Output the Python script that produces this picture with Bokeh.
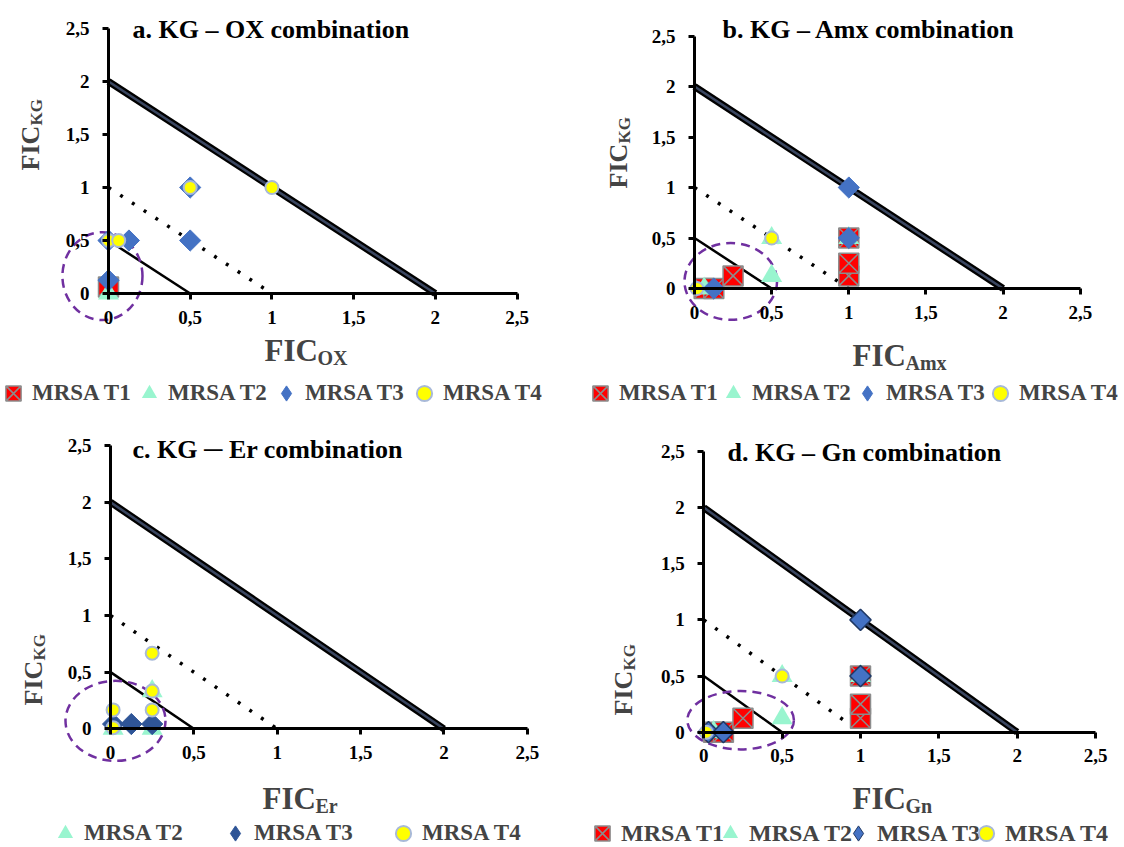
import math
from bokeh.plotting import figure
from bokeh.models import Range1d, FixedTicker, Label, Legend, LegendItem
from bokeh.layouts import column, row
from bokeh.embed import file_html
from bokeh.resources import INLINE

FONT = "Liberation Serif"

# ---------------- data ----------------
tick_values = [0, 0.5, 1, 1.5, 2, 2.5]
tick_labels = ["0", "0,5", "1", "1,5", "2", "2,5"]
series_names = ["MRSA T1", "MRSA T2", "MRSA T3", "MRSA T4"]

# reference lines of the isobologram
add_x = [0, 2]
add_y = [2, 0]
ind_x = [0, 1]
ind_y = [1, 0]
syn_x = [0, 0.5]
syn_y = [0.5, 0]

# a. KG - OX
a_t1_x = [0.0]
a_t1_y = [0.0625]
a_t2_x = [0.0]
a_t2_y = [0.0]
a_t3_x = [0.0, 0.0, 0.125, 0.5, 0.5]
a_t3_y = [0.125, 0.5, 0.5, 0.5, 1.0]
a_t4_x = [0.0, 0.0625, 0.5, 1.0]
a_t4_y = [0.5, 0.5, 1.0, 1.0]

# b. KG - Amx
b_t1_x = [0.0625, 0.125, 0.25, 1.0, 1.0, 1.0]
b_t1_y = [0.0, 0.0, 0.125, 0.125, 0.25, 0.5]
b_t2_x = [0.0625, 0.5, 0.5, 1.0]
b_t2_y = [0.0, 0.125, 0.5, 0.5]
b_t3_x = [0.125, 1.0, 1.0]
b_t3_y = [0.0, 0.5, 1.0]
b_t4_x = [0.0156, 0.5]
b_t4_y = [0.0, 0.5]

# c. KG - Er
c_t2_x = [0.0156, 0.25, 0.25]
c_t2_y = [0.0, 0.0, 0.333]
c_t3_x = [0.0156, 0.125, 0.25]
c_t3_y = [0.042, 0.042, 0.042]
c_t4_x = [0.0156, 0.0156, 0.25, 0.25, 0.25]
c_t4_y = [0.01, 0.167, 0.167, 0.333, 0.667]

# d. KG - Gn
d_t1_x = [0.0625, 0.125, 0.25, 1.0, 1.0, 1.0]
d_t1_y = [0.0, 0.0, 0.125, 0.125, 0.25, 0.5]
d_t2_x = [0.0625, 0.5, 0.5, 1.0]
d_t2_y = [0.0, 0.125, 0.5, 0.5]
d_t3_x = [0.03, 0.125, 1.0, 1.0]
d_t3_y = [0.0, 0.0, 0.5, 1.0]
d_t4_x = [0.0156, 0.5]
d_t4_y = [0.0, 0.5]

# ---------------- styles ----------------
STY = {
    "MRSA T1": dict(marker="square_x", size=20, fill_color="#FF0000", line_color="#8C8C8C", line_width=1.5),
    "MRSA T2": dict(marker="triangle", size=21, fill_color="#99F5CF", line_color=None),
    "MRSA T3": dict(marker="square", size=15, angle=math.pi / 4, fill_color="#4472C4", line_color="#4472C4", line_width=1),
    "MRSA T4": dict(marker="circle", size=13, fill_color="#FFFF00", line_color="#A8B9D8", line_width=2),
}
GW = 38  # legend glyph box width -> glyph size 0.4*GW


def make_panel(W, H, X0, sx, Y0, sy):
    p = figure(width=W, height=H, output_backend="svg", toolbar_location=None,
               x_range=Range1d(-X0 / sx, (W - X0) / sx),
               y_range=Range1d((Y0 - H) / sy, Y0 / sy),
               min_border=0, min_border_left=0, min_border_right=0,
               min_border_top=0, min_border_bottom=0)
    p.outline_line_color = None
    p.background_fill_color = "white"
    p.border_fill_color = "white"
    p.xgrid.visible = False
    p.ygrid.visible = False
    overrides = {v: l for v, l in zip(tick_values, tick_labels)}
    for ax, std in ((p.xaxis[0], 11), (p.yaxis[0], 13)):
        ax.fixed_location = 0
        ax.bounds = (0, 2.5)
        ax.ticker = FixedTicker(ticks=tick_values)
        ax.major_label_overrides = overrides
        ax.axis_line_width = 3
        ax.axis_line_color = "black"
        ax.major_tick_line_width = 3
        ax.major_tick_line_color = "black"
        ax.major_tick_in = 0
        ax.major_tick_out = 6
        ax.minor_tick_line_color = None
        ax.major_label_standoff = std
        ax.major_label_text_font = FONT
        ax.major_label_text_font_style = "bold"
        ax.major_label_text_font_size = "19px"
        ax.major_label_text_color = "black"
    # reference lines
    p.line(add_x, add_y, line_color="black", line_width=7)
    p.line(add_x, add_y, line_color="#3A4660", line_width=2.5)
    p.line(ind_x, ind_y, line_color="black", line_width=3.5, line_dash="3 11")
    p.line(syn_x, syn_y, line_color="black", line_width=2.5)
    return p


def add_ellipse(p, cx, cy, w, h):
    p.ellipse(x=[cx], y=[cy], width=[w], height=[h], fill_color=None,
              line_color="#7030A0", line_width=2.5, line_dash="9 6")


def add_series(p, name, xs, ys, **over):
    st = dict(STY[name])
    st.update(over)
    return p.scatter(xs, ys, **st)


def diamond_proxy(p, xs, ys, fill, line):
    # hidden copy of the diamond series used as its legend swatch
    # (Bokeh legends ignore marker angle, so use the "diamond" marker here)
    return p.scatter(xs, ys, marker="diamond", size=15, fill_color=fill,
                     line_color=line, visible=False)


def add_legend(p, entries, centers, ymid_from_bottom, fsize):
    for (name, r), c in zip(entries, centers):
        lg = Legend(items=[LegendItem(label=name, renderers=[r])], orientation="horizontal",
                    location=(c - GW / 2, ymid_from_bottom - 20),
                    glyph_width=GW, glyph_height=40, label_height=40,
                    label_standoff=0, spacing=0, padding=0, margin=0,
                    border_line_color=None, background_fill_alpha=0,
                    label_text_font=FONT, label_text_font_style="bold",
                    label_text_font_size=fsize, label_text_baseline="middle")
        p.add_layout(lg)


def add_title(p, H, x, yc, text):
    p.add_layout(Label(x=x, y=H - yc, x_units="screen", y_units="screen", text=text,
                       text_font=FONT, text_font_style="bold", text_font_size="26px",
                       text_baseline="middle", text_align="left", text_color="black"))


def add_xlabel(p, H, x, base, sub):
    p.add_layout(Label(x=x, y=H - base, x_units="screen", y_units="screen", text="FIC",
                       text_font=FONT, text_font_style="bold", text_font_size="31px",
                       text_baseline="alphabetic", text_align="left"))
    p.add_layout(Label(x=x + 53, y=H - base - 7, x_units="screen", y_units="screen", text=sub,
                       text_font=FONT, text_font_style="bold", text_font_size="20px",
                       text_baseline="alphabetic", text_align="left"))


def add_ylabel(p, H, xb, ystart, sub):
    p.add_layout(Label(x=xb, y=H - ystart, x_units="screen", y_units="screen", text="FIC",
                       angle=math.pi / 2, text_font=FONT, text_font_style="bold",
                       text_font_size="26px", text_baseline="alphabetic", text_align="left"))
    p.add_layout(Label(x=xb + 6, y=H - ystart + 45, x_units="screen", y_units="screen", text=sub,
                       angle=math.pi / 2, text_font=FONT, text_font_style="bold",
                       text_font_size="17px", text_baseline="alphabetic", text_align="left"))


# ---------------- panel a ----------------
Ha = 423
pa = make_panel(562, Ha, 108, 163.4, 293, 106)
add_ellipse(pa, -0.037, 0.164, 0.49, 0.83)
ra = [add_series(pa, n, xs, ys) for n, xs, ys in zip(
    series_names, [a_t1_x, a_t2_x, a_t3_x, a_t4_x], [a_t1_y, a_t2_y, a_t3_y, a_t4_y])]
ra[2] = diamond_proxy(pa, a_t3_x, a_t3_y, "#4472C4", "#4472C4")
add_legend(pa, list(zip(series_names, ra)), [13, 149, 286, 424], Ha - 393, "23px")
add_title(pa, Ha, 132, 29, "a. KG \u2013 OX combination")
add_xlabel(pa, Ha, 264, 350, "OX")
add_ylabel(pa, Ha, 30, 170, "KG")

# ---------------- panel b ----------------
Hb = 423
pb = make_panel(562, Hb, 132, 154.3, 288, 101)
add_ellipse(pb, 0.235, 0.07, 0.6, 0.76)
rb = [add_series(pb, n, xs, ys) for n, xs, ys in zip(
    series_names, [b_t1_x, b_t2_x, b_t3_x, b_t4_x], [b_t1_y, b_t2_y, b_t3_y, b_t4_y])]
rb[2] = diamond_proxy(pb, b_t3_x, b_t3_y, "#4472C4", "#4472C4")
add_legend(pb, list(zip(series_names, rb)), [38, 171, 305, 438], Hb - 393, "23px")
add_title(pb, Hb, 160, 29, "b. KG \u2013 Amx combination")
add_xlabel(pb, Hb, 290, 355, "Amx")
add_ylabel(pb, Hb, 56, 188, "KG")

# ---------------- panel c ----------------
Hc = 424
pc = make_panel(562, Hc, 110, 166.7, 305.3, 113.3)
add_ellipse(pc, 0.03, 0.07, 0.6, 0.706)
rc = [add_series(pc, n, xs, ys, **over) for n, xs, ys, over in zip(
    series_names[1:], [c_t2_x, c_t3_x, c_t4_x], [c_t2_y, c_t3_y, c_t4_y],
    [{}, dict(fill_color="#2F5597", line_color="#2F5597"), {}])]
rc[1] = diamond_proxy(pc, c_t3_x, c_t3_y, "#2F5597", "#2F5597")
add_legend(pc, list(zip(series_names[1:], rc)), [65, 235, 403], Hc - 410, "23px")
add_title(pc, Hc, 132, 26, "c. KG \u2500 Er combination")
add_xlabel(pc, Hc, 262, 375, "Er")
add_ylabel(pc, Hc, 33, 282, "KG")

# ---------------- panel d ----------------
Hd = 424
pd_ = make_panel(562, Hd, 141.3, 156.7, 308.7, 112.3)
add_ellipse(pd_, 0.235, 0.107, 0.68, 0.52)
rd = [add_series(pd_, n, xs, ys, **over) for n, xs, ys, over in zip(
    series_names, [d_t1_x, d_t2_x, d_t3_x, d_t4_x], [d_t1_y, d_t2_y, d_t3_y, d_t4_y],
    [{}, {}, dict(line_color="#1F3864", line_width=1.5), {}])]
rd[2] = diamond_proxy(pd_, d_t3_x, d_t3_y, "#4472C4", "#1F3864")
add_legend(pd_, list(zip(series_names, rd)), [40, 168, 296, 424], Hd - 410, "24px")
add_title(pd_, Hd, 165, 29, "d. KG \u2013 Gn combination")
add_xlabel(pd_, Hd, 290, 375, "Gn")
add_ylabel(pd_, Hd, 61, 292, "KG")

layout = column(row(pa, pb), row(pc, pd_))
open("out.html", "w").write(file_html(layout, INLINE))
